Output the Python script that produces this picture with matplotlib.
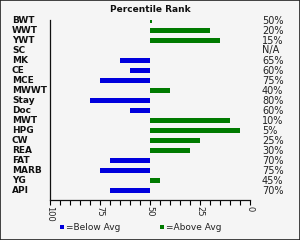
import matplotlib
matplotlib.use("Agg")
import matplotlib.pyplot as plt
from matplotlib.patches import Rectangle

traits = ["BWT", "WWT", "YWT", "SC", "MK", "CE", "MCE", "MWWT", "Stay", "Doc",
          "MWT", "HPG", "CW", "REA", "FAT", "MARB", "YG", "API"]
ranks = [50, 20, 15, None, 65, 60, 75, 40, 80, 60, 10, 5, 25, 30, 70, 75, 45, 70]
bar_ends = [49, 20, 15, None, 65, 60, 75, 40, 80, 60, 10, 5, 25, 30, 70, 75, 45, 70]
title = "Percentile Rank"
avg = 50
below_label = "=Below Avg"
above_label = "=Above Avg"
xticks = [100, 75, 50, 25, 0]

BLUE = "#0000DD"
GREEN = "#007A00"
BG = "#F5F5F5"

W, H = 300, 240
fig = plt.figure(figsize=(W / 100, H / 100), dpi=100, facecolor=BG)
fig.patches.append(Rectangle((0, 0), 1, 1, transform=fig.transFigure, fill=False,
                             edgecolor="#222222", linewidth=1.2))

ax = fig.add_axes([50 / W, 1 - 200 / H, 200 / W, 180 / H])
ax.set_facecolor(BG)

for i, (t, e) in enumerate(zip(traits, bar_ends)):
    if e is None:
        continue
    color = BLUE if e > avg else GREEN
    ax.barh(i, e - avg, left=avg, height=0.5, color=color, linewidth=0)

ax.set_xlim(100, 0)
ax.set_ylim(17.95, -0.05)
ax.set_yticks([])
ax.set_xticks(xticks)
ax.set_xticks(range(0, 101, 5), minor=True)
ax.set_xticklabels([str(v) for v in xticks], rotation=270, fontsize=6, color="#222222")
ax.tick_params(axis="x", which="both", direction="out", length=3.5, width=0.8, pad=1)
for s in ["top", "right"]:
    ax.spines[s].set_visible(False)
for s in ["left", "bottom"]:
    ax.spines[s].set_linewidth(0.9)
    ax.spines[s].set_color("#111111")

for i, t in enumerate(traits):
    fig.text(12 / W, 1 - (20.5 + 10 * i) / H, t, fontsize=6.5, fontweight="bold",
             ha="left", va="center", color="#111111")
    r = ranks[i]
    lab = "N/A" if r is None else f"{r}%"
    fig.text(262 / W, 1 - (20.5 + 10 * i) / H, lab, fontsize=7,
             ha="left", va="center", color="#222222")

fig.text(150 / W, 1 - 9 / H, title, fontsize=6.5, fontweight="bold", ha="center",
         va="center", color="#111111")

fig.patches.append(Rectangle((60 / W, 1 - 229 / H), 4 / W, 4 / H, transform=fig.transFigure,
                             facecolor=BLUE, edgecolor="none"))
fig.text(66 / W, 1 - 227 / H, below_label, fontsize=6.5, ha="left", va="center", color="#222222")
fig.patches.append(Rectangle((160 / W, 1 - 229 / H), 4 / W, 4 / H, transform=fig.transFigure,
                             facecolor=GREEN, edgecolor="none"))
fig.text(166 / W, 1 - 227 / H, above_label, fontsize=6.5, ha="left", va="center", color="#222222")

fig.savefig("out.png", dpi=100, facecolor=BG)
